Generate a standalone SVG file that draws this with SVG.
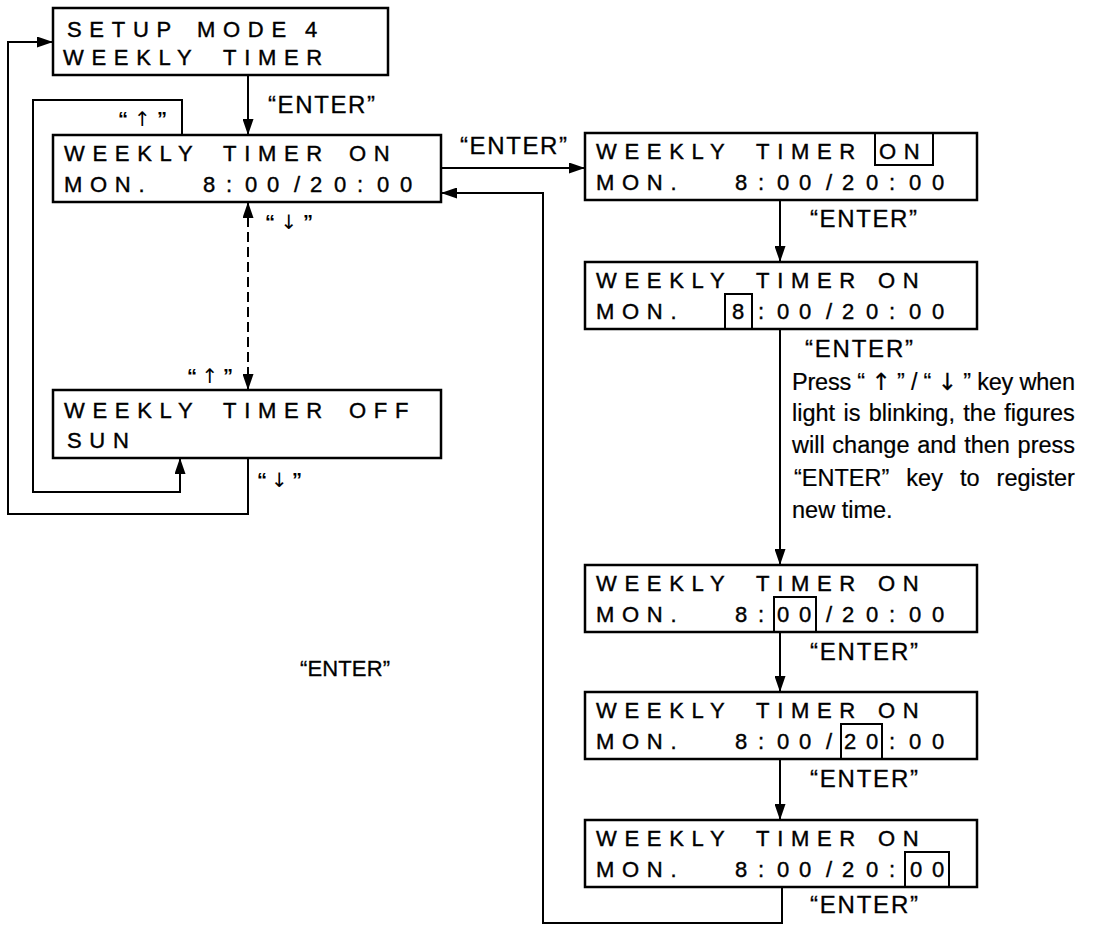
<svg xmlns="http://www.w3.org/2000/svg" width="1100" height="927" viewBox="0 0 1100 927">
<style>
.box{fill:#fff;stroke:#000;stroke-width:2.5}
.hl{fill:none;stroke:#000;stroke-width:2}
.lcd{font-family:"Liberation Sans",Arial,sans-serif;font-size:22px;letter-spacing:7.7px;fill:#000;stroke:#000;stroke-width:0.4}
.lcd .t{letter-spacing:0}
.lbl{font-family:"Liberation Sans",Arial,sans-serif;font-size:24px;fill:#000;stroke:#000;stroke-width:0.3}
.key{font-family:"Liberation Sans",Arial,sans-serif;font-size:20px;font-weight:bold;fill:#000}
.ar{font-family:"DejaVu Sans",sans-serif;font-weight:normal}
.para{font-family:"Liberation Sans",Arial,sans-serif;font-size:23.5px;fill:#000;stroke:#000;stroke-width:0.2}
.c{fill:none;stroke:#000;stroke-width:2}
.d{stroke-dasharray:10 5}
</style>
<defs>
<marker id="ah" markerUnits="userSpaceOnUse" markerWidth="16" markerHeight="11" refX="16" refY="5.5" orient="auto-start-reverse">
<path d="M0,0 L16,5.5 L0,11 z" fill="#000"/>
</marker>
</defs>
<rect width="1100" height="927" fill="#fff"/>

<g id="connectors">
<line class="c" x1="248" y1="75" x2="248" y2="135" marker-end="url(#ah)"/>
<line class="c" x1="441" y1="168" x2="585" y2="168" marker-end="url(#ah)"/>
<line class="c" x1="780" y1="200" x2="780" y2="262" marker-end="url(#ah)"/>
<line class="c" x1="780" y1="329" x2="780" y2="565" marker-end="url(#ah)"/>
<line class="c" x1="780" y1="632" x2="780" y2="692" marker-end="url(#ah)"/>
<line class="c" x1="780" y1="759" x2="780" y2="820" marker-end="url(#ah)"/>
<polyline class="c" points="782,887 782,923 543,923 543,193 441,193" marker-end="url(#ah)"/>
<polyline class="c" points="182,135 182,100 33,100 33,492 180,492 180,458" marker-end="url(#ah)"/>
<polyline class="c" points="248,458 248,514 8,514 8,42 53,42" marker-end="url(#ah)"/>
<line class="c d" x1="248" y1="202" x2="248" y2="390" marker-start="url(#ah)" marker-end="url(#ah)"/>
</g>

<g id="labels">
<text class="lbl" x="268" y="113" textLength="107" lengthAdjust="spacing">“ENTER”</text>
<text class="lbl" x="460" y="154" textLength="107" lengthAdjust="spacing">“ENTER”</text>
<text class="lbl" x="810" y="227" textLength="107" lengthAdjust="spacing">“ENTER”</text>
<text class="lbl" x="805" y="357" textLength="108" lengthAdjust="spacing">“ENTER”</text>
<text class="lbl" x="810" y="660" textLength="108" lengthAdjust="spacing">“ENTER”</text>
<text class="lbl" x="810" y="787" textLength="108" lengthAdjust="spacing">“ENTER”</text>
<text class="lbl" x="810" y="913" textLength="108" lengthAdjust="spacing">“ENTER”</text>
<text class="lbl" x="300" y="676" style="font-size:22px" textLength="90" lengthAdjust="spacing">“ENTER”</text>
<text class="key" x="118" y="126" textLength="49" lengthAdjust="spacing">“ <tspan class="ar">↑</tspan> ”</text>
<text class="key" x="265" y="229" textLength="48" lengthAdjust="spacing">“ <tspan class="ar">↓</tspan> ”</text>
<text class="key" x="187" y="383" textLength="46" lengthAdjust="spacing">“ <tspan class="ar">↑</tspan> ”</text>
<text class="key" x="257" y="487" textLength="45" lengthAdjust="spacing">“ <tspan class="ar">↓</tspan> ”</text>
<text class="para" x="792" y="390" textLength="283" lengthAdjust="spacing">Press “ <tspan class="ar">↑</tspan> ” / “ <tspan class="ar">↓</tspan> ” key when</text>
<text class="para" x="792" y="421" word-spacing="1.8">light is blinking, the figures</text>
<text class="para" x="792" y="453" word-spacing="1.2">will change and then press</text>
<text class="para" x="794" y="486" word-spacing="10.5">“ENTER” key to register</text>
<text class="para" x="792" y="518">new time.</text>
</g>

<g id="setup-mode">
<rect class="box" x="53" y="8" width="335" height="67"/>
<text class="lcd" y="37"><tspan x="67">SETUP</tspan><tspan x="197">MODE</tspan><tspan x="305">4</tspan></text>
<text class="lcd" y="65"><tspan x="63">WEEKLY</tspan><tspan x="223">TIMER</tspan></text>
</g>

<g id="timer-on">
<rect class="box" x="53" y="135" width="388" height="67"/>
<text class="lcd" y="161"><tspan x="64">WEEKLY</tspan><tspan x="223">TIMER</tspan><tspan x="349">ON</tspan></text>
<text class="lcd" y="192"><tspan x="64">MON.</tspan><tspan class="t" x="203 226 245 267 294 310 334 357 377 400">8:00/20:00</tspan></text>
</g>

<g id="timer-off">
<rect class="box" x="53" y="390" width="388" height="68"/>
<text class="lcd" y="418"><tspan x="64">WEEKLY</tspan><tspan x="223">TIMER</tspan><tspan x="349">OFF</tspan></text>
<text class="lcd" y="448"><tspan x="67">SUN</tspan></text>
</g>

<g id="edit-on">
<rect class="box" x="585" y="133" width="392" height="67"/>
<text class="lcd" y="159"><tspan x="596">WEEKLY</tspan><tspan x="756">TIMER</tspan><tspan x="879">ON</tspan></text>
<text class="lcd" y="190"><tspan x="596">MON.</tspan><tspan class="t" x="735 758 777 799 826 842 866 889 909 932">8:00/20:00</tspan></text>
<rect class="hl" x="875" y="133" width="58" height="32"/>
</g>

<g id="edit-hour">
<rect class="box" x="585" y="262" width="392" height="67"/>
<text class="lcd" y="288"><tspan x="596">WEEKLY</tspan><tspan x="756">TIMER</tspan><tspan x="878">ON</tspan></text>
<text class="lcd" y="319"><tspan x="596">MON.</tspan><tspan class="t" x="732 758 777 799 826 842 866 889 909 932">8:00/20:00</tspan></text>
<rect class="hl" x="725" y="294" width="27" height="35"/>
</g>

<g id="edit-min">
<rect class="box" x="585" y="565" width="392" height="67"/>
<text class="lcd" y="591"><tspan x="596">WEEKLY</tspan><tspan x="756">TIMER</tspan><tspan x="878">ON</tspan></text>
<text class="lcd" y="622"><tspan x="596">MON.</tspan><tspan class="t" x="735 758 777 799 826 842 866 889 909 932">8:00/20:00</tspan></text>
<rect class="hl" x="774" y="597" width="42" height="35"/>
</g>

<g id="edit-off-hour">
<rect class="box" x="585" y="692" width="392" height="67"/>
<text class="lcd" y="718"><tspan x="596">WEEKLY</tspan><tspan x="756">TIMER</tspan><tspan x="878">ON</tspan></text>
<text class="lcd" y="749"><tspan x="596">MON.</tspan><tspan class="t" x="735 758 777 799 826 844 866 889 909 932">8:00/20:00</tspan></text>
<rect class="hl" x="841" y="724" width="41" height="35"/>
</g>

<g id="edit-off-min">
<rect class="box" x="585" y="820" width="392" height="67"/>
<text class="lcd" y="846"><tspan x="596">WEEKLY</tspan><tspan x="756">TIMER</tspan><tspan x="878">ON</tspan></text>
<text class="lcd" y="877"><tspan x="596">MON.</tspan><tspan class="t" x="735 758 777 799 826 842 866 889 910 932">8:00/20:00</tspan></text>
<rect class="hl" x="905" y="852" width="44" height="35"/>
</g>
</svg>
